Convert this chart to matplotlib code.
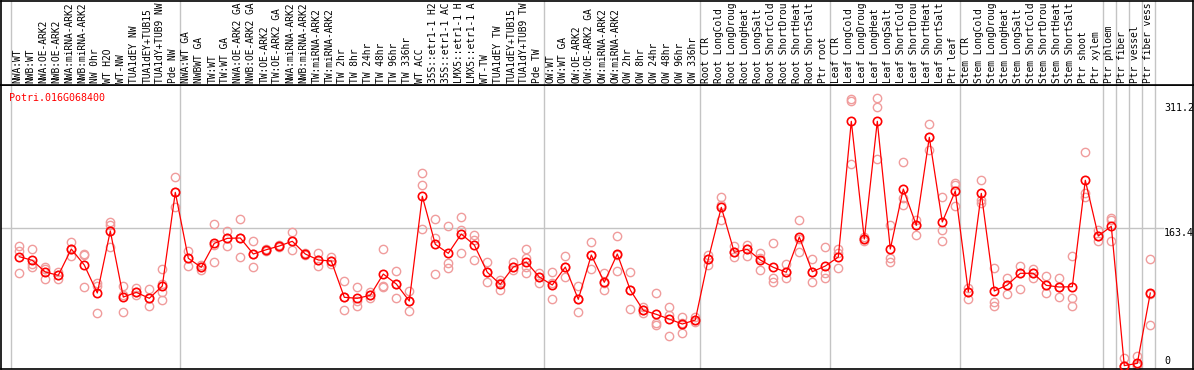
import matplotlib
matplotlib.use("Agg")
from matplotlib import pyplot as plt

gene_name = "Potri.016G068400"

# labels as far as they are visible in the header strip
sample_labels = [
    "NWA:WT", "NWB:WT", "NWA:OE-ARK2", "NWB:OE-ARK2", "NWA:miRNA-ARK2",
    "NWB:miRNA-ARK2", "NW 0hr", "WT H2O", "WT-NW", "TUA1dEY NW",
    "TUA1dEY+TUB15", "TUA1dY+TUB9 NW", "Pde NW",
    "NWA:WT GA", "NWBWT GA", "TW:WT", "TW:WT GA", "NWA:OE-ARK2 GA",
    "NWB:OE-ARK2 GA", "TW:OE-ARK2", "TW:OE-ARK2 GA", "NWA:miRNA-ARK2",
    "NWB:miRNA-ARK2", "TW:miRNA-ARK2", "TW:miRNA-ARK2", "TW 2hr", "TW 8hr",
    "TW 24hr", "TW 48hr", "TW 96hr", "TW 336hr", "WT ACC",
    "35S::etr1-1 H2", "35S::etr1-1 AC", "LMX5::etr1-1 H",
    "LMX5::etr1-1 A", "WT-TW", "TUA1dEY TW", "TUA1dEY+TUB15",
    "TUA1dY+TUB9 TW", "Pde TW",
    "OW:WT", "OW:WT GA", "OW:OE-ARK2", "OW:OE-ARK2 GA", "OW:miRNA-ARK2",
    "OW:miRNA-ARK2", "OW 2hr", "OW 8hr", "OW 24hr", "OW 48hr", "OW 96hr",
    "OW 336hr",
    "Root CTR", "Root LongCold", "Root LongDroug", "Root LongHeat",
    "Root LongSalt", "Root ShortCold", "Root ShortDrou", "Root ShortHeat",
    "Root ShortSalt", "Ptr root",
    "Leaf CTR", "Leaf LongCold", "Leaf LongDroug", "Leaf LongHeat",
    "Leaf LongSalt", "Leaf ShortCold", "Leaf ShortDrou", "Leaf ShortHeat",
    "Leaf ShortSalt", "Ptr leaf",
    "Stem CTR", "Stem LongCold", "Stem LongDroug", "Stem LongHeat",
    "Stem LongSalt", "Stem ShortCold", "Stem ShortDrou", "Stem ShortHeat",
    "Stem ShortSalt", "Ptr shoot", "Ptr xylem",
    "Ptr phloem", "Ptr fiber", "Ptr vessel", "Ptr fiber vess",
]

mean_values = [
    129.3, 125.0, 111.1, 107.2, 138.4, 119.4, 86.2, 159.8, 81.4, 87.0,
    79.9, 94.5, 205.7,
    127.4, 116.7, 145.2, 151.1, 151.5, 132.5, 137.6, 142.0, 147.6, 132.5,
    125.4, 124.2, 81.1, 79.9, 83.5, 108.7, 96.9, 76.7, 201.0, 144.0, 133.3,
    156.2, 143.2, 110.8, 96.5, 117.0, 123.0, 105.2,
    95.7, 117.0, 78.7, 131.3, 98.9, 132.5, 89.7, 65.6, 60.9, 55.3, 49.4, 54.1,
    126.5, 187.9, 134.5, 138.1, 125.4, 116.7, 110.8, 152.7, 111.5, 118.2,
    128.9, 290.0, 150.3, 290.0, 138.4, 209.6, 166.5, 271.0, 170.5, 207.3,
    87.7, 204.5, 88.6, 95.7, 109.6, 109.6, 95.3, 93.3, 93.7, 220.0, 153.9,
    165.4, 0.0, 2.7, 86.2,
]

replicate_values = [
    [142.3, 136.0, 109.9], [138.4, 120.3, 117.4], [117.4, 115.0, 102.4],
    [111.5, 107.2, 102.4], [146.7, 138.4, 129.7], [132.5, 131.0, 92.9],
    [97.7, 95.0, 62.4], [170.5, 166.9, 140.4], [94.1, 83.5, 63.6],
    [92.5, 87.0, 83.8], [91.3, 79.9, 70.4], [114.3, 96.9, 87.4, 77.9],
    [223.5, 205.7, 187.9],
    [136.0, 127.4, 117.9], [119.8, 116.7, 113.1], [167.7, 142.8, 122.6],
    [159.8, 151.1, 141.6], [174.0, 151.5, 128.6], [147.6, 132.5, 117.0],
    [138.8, 137.6, 136.0], [143.2, 142.0, 140.8], [158.6, 147.6, 136.9],
    [134.0, 131.3, 132.3], [133.3, 125.4, 118.2], [128.6, 124.2, 120.6],
    [100.4, 81.1, 66.0], [92.9, 76.7, 70.8], [87.7, 83.5, 79.9],
    [138.4, 94.5, 92.9], [112.3, 96.9, 79.9], [88.9, 76.7, 64.8],
    [228.6, 214.0, 161.8], [173.7, 151.8, 108.7], [165.4, 121.4, 115.5],
    [176.4, 161.0, 133.3], [155.0, 149.1, 125.4], [122.6, 111.1, 98.9],
    [101.6, 98.1, 89.4], [123.0, 117.0, 113.5], [138.4, 127.4, 117.0, 110.3],
    [110.3, 105.2, 98.4],
    [110.8, 97.7, 78.7], [130.1, 117.0, 104.8], [94.5, 78.7, 63.3],
    [146.4, 131.3, 114.3], [109.6, 98.1, 89.7], [153.9, 131.3, 112.3],
    [111.1, 89.7, 67.2], [69.9, 65.6, 62.1], [86.2, 50.2, 47.8],
    [69.2, 59.7, 34.8], [58.0, 50.2, 38.3], [57.3, 54.1, 51.4],
    [131.3, 126.5, 119.4], [200.5, 190.6, 172.8], [142.3, 134.5, 129.3],
    [143.2, 138.1, 130.5], [133.3, 127.7, 113.1], [145.5, 103.6, 99.6],
    [120.6, 110.8, 103.6], [172.8, 150.3, 134.5], [126.5, 111.1, 99.2],
    [140.4, 110.3, 103.6],
    [138.1, 133.7, 115.9], [316.1, 313.7, 239.3], [152.7, 150.3, 147.9],
    [318.0, 306.6, 245.3], [166.9, 127.4, 122.6], [241.7, 198.6, 190.6],
    [172.8, 166.5, 155.4], [286.8, 271.0, 255.9], [200.5, 161.0, 147.6],
    [216.4, 214.0, 189.8],
    [91.8, 87.7, 78.7], [220.3, 196.6, 192.7], [115.5, 75.9, 71.1],
    [104.3, 95.7, 85.0], [118.2, 109.6, 91.3], [114.7, 109.6, 104.3],
    [106.0, 95.3, 86.5], [103.6, 93.3, 81.1], [130.1, 79.9, 70.4],
    [253.2, 204.5, 199.8], [161.0, 153.9, 147.9],
    [174.9, 172.8, 147.9], [9.1, 0.0, 0.0], [11.4, 1.0, 0.0],
    [126.2, 85.0, 47.8],
]

group_starts = [0, 13, 41, 53, 63, 73, 84, 85, 86, 87, 88]
y_labels = [311.2, 163.4, 0]

W, H = 1194, 370
fig = plt.figure(figsize=(W / 100, H / 100), dpi=100)
font = dict(family="DejaVu Sans Mono", size=7.2)
label_font = dict(family="DejaVu Sans Mono", size=6.9)

# sample i sits at pixel 19.3 + 13*i
xmin = (1 - 19.3) / 13
xmax = (1193 - 19.3) / 13

ax = fig.add_axes([1 / W, 1 / H, 1192 / W, 284 / H])
top = fig.add_axes([1 / W, 285 / H, 1192 / W, 84.5 / H])

for a in (ax, top):
    a.set_xlim(xmin, xmax)
    a.set_xticks([])
    a.set_yticks([])
    for s in a.spines.values():
        s.set_color("black")
        s.set_linewidth(1.2)
    for g in group_starts:
        a.axvline(g - 0.64, color="#c4c4c4", lw=1.0, zorder=0)

ax.set_ylim(-4.0, 333.1)
top.set_ylim(0, 85)

ax.plot([xmin, 88.0], [163.4, 163.4], color="#c4c4c4", lw=1.0, zorder=0)

# replicates
for i, reps in enumerate(replicate_values):
    ax.plot([i] * len(reps), reps, linestyle="none", marker="o",
            markersize=6, markerfacecolor="none", markeredgecolor="#f09c9c",
            markeredgewidth=1.0, zorder=2)

xs = list(range(len(mean_values)))
ax.plot(xs, mean_values, color="red", lw=0.9, marker="o", markersize=6,
        markerfacecolor="none", markeredgecolor="red", markeredgewidth=1.2,
        zorder=3)

ax.text(0.007, 0.973, gene_name, transform=ax.transAxes, color="red",
        ha="left", va="top", **font)

for v in y_labels:
    if v == 0:
        ax.text(88.05, v, "0", ha="left", va="bottom", color="black", **font)
    else:
        ax.text(88.05, v, f"{v}", ha="left", va="top", color="black", **font)

for i, lab in enumerate(sample_labels):
    top.text(i - 0.15, 2.5, lab, rotation=90, ha="center", va="bottom",
             color="black", **label_font)

fig.savefig("out.png", dpi=100)
